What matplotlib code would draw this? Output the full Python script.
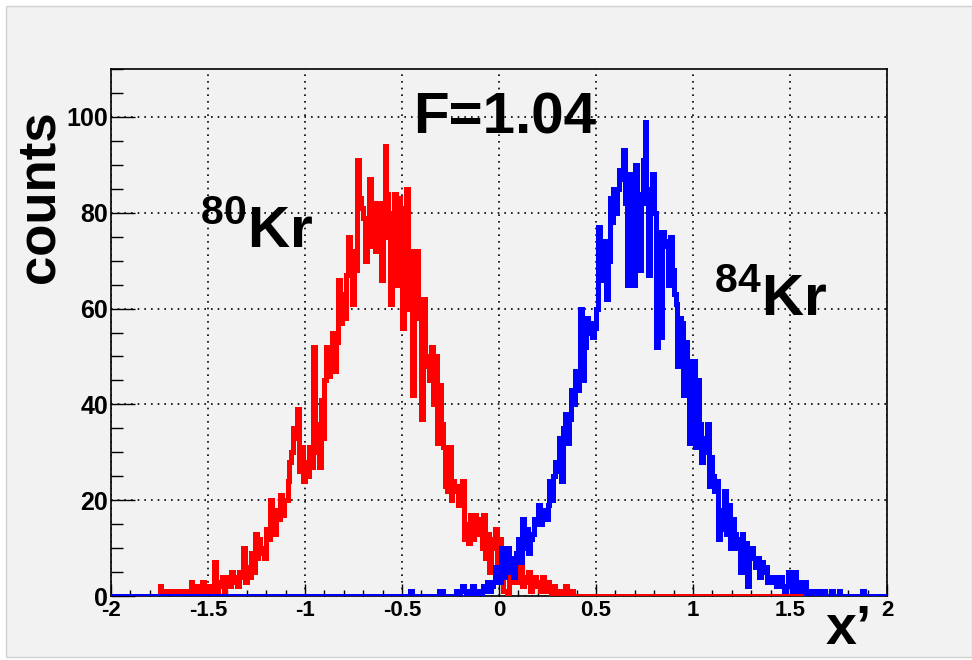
import numpy as np
import matplotlib
matplotlib.use("Agg")
import matplotlib.pyplot as plt
from matplotlib.patches import Rectangle
from matplotlib.ticker import MultipleLocator

plt.rcParams['font.family'] = ['Liberation Sans', 'DejaVu Sans']
plt.rcParams['mathtext.fontset'] = 'custom'
plt.rcParams['mathtext.rm'] = 'Liberation Sans:bold'
plt.rcParams['mathtext.bf'] = 'Liberation Sans:bold'

# histogram binning: 400 bins of 0.01 from -2 to 2
bin_width = 0.01
x_min, x_max = -2.0, 2.0

# 80Kr counts, bins starting at -1.80
red_start = -1.80
red_counts = [
    0, 0, 0, 0, 0, 2, 0, 1, 0, 0,
    1, 0, 0, 1, 0, 1, 0, 0, 1, 0,
    0, 3, 1, 0, 2, 1, 0, 3, 1, 2,
    2, 1, 2, 7, 1, 3, 2, 4, 1, 2,
    4, 2, 5, 3, 4, 2, 5, 4, 10, 3,
    6, 4, 9, 5, 13, 8, 12, 9, 10, 8,
    14, 12, 20, 15, 13, 18, 16, 21, 17, 20,
    20, 24, 28, 30, 35, 33, 39, 26, 31, 24,
    28, 25, 31, 27, 52, 30, 36, 27, 41, 33,
    45, 52, 46, 50, 55, 47, 53, 66, 57, 63,
    58, 67, 75, 70, 61, 72, 68, 91, 83, 81,
    79, 70, 76, 87, 73, 82, 72, 79, 82, 66,
    75, 94, 84, 78, 61, 80, 84, 65, 83, 81,
    56, 70, 85, 60, 72, 42, 68, 72, 62, 58,
    37, 62, 48, 50, 45, 52, 40, 50, 32, 44,
    36, 31, 23, 22, 31, 20, 24, 22, 23, 19,
    22, 24, 12, 15, 11, 17, 12, 17, 13, 14,
    16, 10, 17, 8, 13, 5, 12, 10, 14, 7,
    12, 8, 1, 1, 0, 4, 3, 6, 4, 5,
    3, 7, 2, 4, 3, 5, 1, 3, 4, 2,
    3, 1, 4, 2, 1, 3, 1, 0, 2, 1,
    0, 1, 0, 0, 2, 0, 0, 1, 0, 0,
]

# 84Kr counts, bins starting at -0.50
blue_start = -0.50
blue_counts = [
    0, 0, 0, 0, 1, 0, 0, 0, 0, 0,
    0, 0, 0, 0, 0, 0, 0, 0, 0, 1,
    1, 0, 0, 0, 0, 0, 0, 0, 1, 0,
    1, 2, 1, 0, 0, 1, 2, 0, 1, 1,
    0, 1, 2, 1, 3, 1, 2, 3, 6, 4,
    3, 10, 4, 6, 10, 5, 8, 4, 7, 9,
    12, 7, 16, 10, 14, 9, 12, 13, 16, 15,
    19, 15, 17, 18, 16, 19, 24, 20, 25, 28,
    26, 33, 24, 35, 38, 32, 37, 43, 40, 47,
    43, 47, 60, 45, 52, 58, 55, 57, 54, 56,
    60, 77, 66, 72, 74, 62, 70, 83, 78, 85,
    80, 85, 89, 87, 93, 82, 65, 88, 83, 65,
    90, 78, 68, 84, 91, 99, 82, 67, 85, 88,
    80, 52, 76, 54, 76, 73, 74, 65, 75, 68,
    63, 61, 48, 58, 57, 42, 53, 49, 32, 47,
    49, 31, 45, 36, 28, 33, 30, 36, 23, 29,
    25, 22, 24, 12, 18, 14, 22, 13, 19, 10,
    16, 13, 10, 12, 5, 13, 8, 11, 2, 10,
    10, 8, 6, 8, 4, 7, 5, 6, 3, 4,
    4, 3, 4, 2, 3, 4, 2, 1, 2, 5,
    2, 1, 5, 1, 2, 3, 1, 3, 0, 1,
    1, 0, 1, 0, 1, 0, 0, 1, 0, 0,
    0, 1, 0, 0, 0, 1, 0, 0, 0, 0,
    0, 0, 0, 0, 0, 0, 0, 1, 0, 0,
    0, 0, 0, 0, 0,
]

x_ticks = [-2, -1.5, -1, -0.5, 0, 0.5, 1, 1.5, 2]
x_tick_labels = ['-2', '-1.5', '-1', '-0.5', '0', '0.5', '1', '1.5', '2']
y_ticks = [0, 20, 40, 60, 80, 100]

title_text = 'F=1.04'
label_80 = r'$^{80}$Kr'
label_84 = r'$^{84}$Kr'


def full_hist(start, counts):
    nbins = int(round((x_max - x_min) / bin_width))
    h = np.zeros(nbins)
    i0 = int(round((start - x_min) / bin_width))
    h[i0:i0 + len(counts)] = counts
    return h


edges = np.linspace(x_min, x_max, int(round((x_max - x_min) / bin_width)) + 1)
red_h = full_hist(red_start, red_counts)
blue_h = full_hist(blue_start, blue_counts)

bg = '#f2f2f2'
fig = plt.figure(figsize=(9.72, 6.6), dpi=100, facecolor='white')
fig.patches.append(Rectangle((6 / 972, 3 / 660), 966 / 972, 651 / 660,
                             transform=fig.transFigure, facecolor=bg,
                             edgecolor='#d0d0d0', lw=1, zorder=-10))

# axes box in pixels: left 111, right 887, top 69, bottom 596
ax = fig.add_axes([111 / 972, 1 - 596 / 660, 776 / 972, 527 / 660])
ax.set_facecolor(bg)

ax.stairs(red_h, edges, color='#ff0000', lw=3.6, zorder=3)
ax.stairs(blue_h, edges, color='#0000ff', lw=3.6, zorder=4)

ax.set_xlim(x_min, x_max)
ax.set_ylim(0, 110)
ax.set_xticks(x_ticks)
ax.set_xticklabels(x_tick_labels, fontsize=16, fontweight='bold')
ax.set_yticks(y_ticks)
ax.set_yticklabels([str(v) for v in y_ticks], fontsize=18, fontweight='bold')
ax.xaxis.set_minor_locator(MultipleLocator(0.1))
ax.yaxis.set_minor_locator(MultipleLocator(5))
ax.tick_params(which='both', direction='in', color='black', width=1)
ax.tick_params(axis='y', which='major', length=17, pad=2)
ax.tick_params(axis='y', which='minor', length=8.6)
ax.tick_params(axis='x', which='major', length=8.6, pad=3)
ax.tick_params(axis='x', which='minor', length=4.3)

ax.grid(True, which='major', color='black', linestyle=(0, (1, 3)), lw=1.2)
for s in ax.spines.values():
    s.set_linewidth(1.2)
    s.set_color('black')

fig.text(40 / 972, 1 - 197 / 660, 'counts', rotation=90, fontsize=38,
         fontweight='bold', ha='center', va='center')
fig.text(872 / 972, 1 - 630 / 660, "x\u2019", fontsize=40, fontweight='bold',
         ha='right', va='center', zorder=5)

ax.text((505 - 111) / 776, 1 - (118 - 69) / 527, title_text,
        transform=ax.transAxes, fontsize=42, fontweight='bold',
        ha='center', va='center')
ax.text((257 - 111) / 776, 1 - (232 - 69) / 527, label_80,
        transform=ax.transAxes, fontsize=42, fontweight='bold',
        ha='center', va='center')
ax.text((771 - 111) / 776, 1 - (300 - 69) / 527, label_84,
        transform=ax.transAxes, fontsize=42, fontweight='bold',
        ha='center', va='center')

fig.savefig('out.png', dpi=100, facecolor=fig.get_facecolor())
